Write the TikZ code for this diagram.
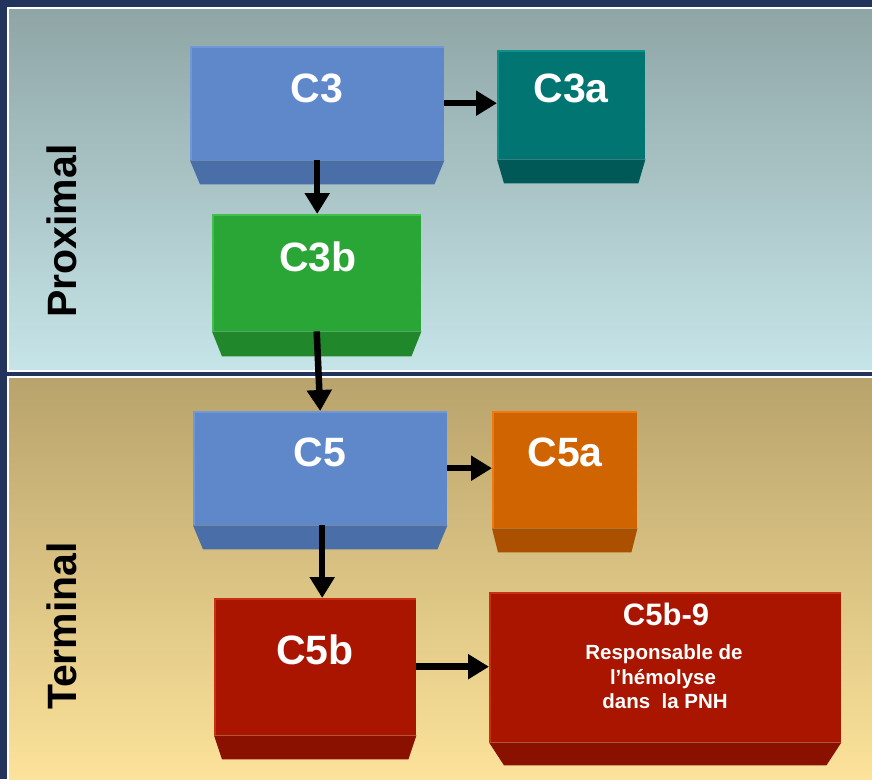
\documentclass[tikz,border=0pt]{standalone}
\usepackage{fontspec}
\setmainfont{Liberation Sans}
\usetikzlibrary{arrows.meta,calc}
\definecolor{navy}{HTML}{22345B}
\definecolor{tpA}{HTML}{8FA5A6}
\definecolor{tpB}{HTML}{C6E5E8}
\definecolor{btA}{HTML}{B8A36C}
\definecolor{btB}{HTML}{FEE49B}
\definecolor{blueF}{HTML}{5F88CB}
\definecolor{blueB}{HTML}{4A6EA8}
\definecolor{blueH}{HTML}{7098D8}
\definecolor{tealF}{HTML}{007572}
\definecolor{tealB}{HTML}{005957}
\definecolor{tealH}{HTML}{10908A}
\definecolor{greenF}{HTML}{2AA636}
\definecolor{greenB}{HTML}{21872B}
\definecolor{greenH}{HTML}{40C04A}
\definecolor{orangeF}{HTML}{D06400}
\definecolor{orangeB}{HTML}{AA5000}
\definecolor{orangeH}{HTML}{F07A10}
\definecolor{redF}{HTML}{AA1500}
\definecolor{redB}{HTML}{8A1000}
\definecolor{redH}{HTML}{C83010}
\tikzset{
  face/.style={draw=none, inner sep=0pt, anchor=north west},
  arr/.style={line width=6.5pt, -{Triangle[length=21pt,width=24pt]}},
  sidelabel/.style={font=\fontsize{41}{48}\selectfont\bfseries, text=black, rotate=90, inner sep=0pt},
  boxtext/.style={anchor=base, inner sep=0pt, text=white},
}
% #1 name, #2 x, #3 y, #4 width, #5 face height, #6 bevel height, #7 inset, #8 face, #9 bevel
\newcommand\bevbox[9]{%
  \node[face, fill=#8, minimum width=#4pt, minimum height=#5pt] (#1) at (#2,#3) {};
  \fill[#9] (#1.south west) -- (#1.south east) -- ++(-#7,#6) -- ($(#1.south west)+(#7,#6)$) -- cycle;
}
\begin{document}
\begin{tikzpicture}[x=1pt,y=-1pt]
\useasboundingbox (0,0) rectangle (872,779);
\fill[navy] (0,0) rectangle (872,779);
% panels
\shade[top color=tpA, bottom color=tpB] (8,8) rectangle (885,371);
\draw[white, line width=1.3pt] (8,8) rectangle (885,371);
\shade[top color=btA, bottom color=btB] (8,377) rectangle (885,790);
\draw[white, line width=1.3pt] (8,377) rectangle (885,790);
% side labels
\node[sidelabel] (prox) at (62,231) {Proximal};
\node[sidelabel] (term) at (62,626) {Terminal};
% boxes
\bevbox{c3}{190}{46}{254}{114}{24}{10}{blueF}{blueB}
\bevbox{c3a}{497}{50}{148}{109}{24}{7}{tealF}{tealB}
\bevbox{c3b}{212}{214}{209}{117}{25}{10}{greenF}{greenB}
\bevbox{c5}{193}{411}{254}{114}{24}{10}{blueF}{blueB}
\bevbox{c5a}{492}{411}{145}{117}{24}{6}{orangeF}{orangeB}
\bevbox{c5b}{214}{598}{202}{137}{24}{8}{redF}{redB}
\bevbox{c59}{489}{592}{352}{150}{23}{15}{redF}{redB}
% highlights
\foreach \n/\h in {c3/blueH,c3a/tealH,c3b/greenH,c5/blueH,c5a/orangeH,c5b/redH,c59/redH}{
  \draw[\h, line width=1.5pt] ($(\n.south west)+(0.75,0)$) -- ($(\n.north west)+(0.75,0.75)$) -- ($(\n.north east)+(0,0.75)$);
}
% texts
\node[boxtext, font=\fontsize{41}{48}\selectfont\bfseries] (c3t) at (317,102) {C3};
\node[boxtext, font=\fontsize{41}{48}\selectfont\bfseries] (c3at) at (571,102) {C3a};
\node[boxtext, font=\fontsize{41}{48}\selectfont\bfseries] (c3bt) at (318,271) {C3b};
\node[boxtext, font=\fontsize{41}{48}\selectfont\bfseries] (c5t) at (320,466) {C5};
\node[boxtext, font=\fontsize{41}{48}\selectfont\bfseries] (c5at) at (565,466) {C5a};
\node[boxtext, font=\fontsize{41}{48}\selectfont\bfseries] (c5bt) at (315,664) {C5b};
\node[boxtext, font=\fontsize{31}{36}\selectfont\bfseries] (c59t) at (666,625) {C5b-9};
\node[boxtext, font=\fontsize{20.5}{24}\selectfont\bfseries] (c59l1) at (664,659) {Responsable de};
\node[boxtext, font=\fontsize{20.5}{24}\selectfont\bfseries] (c59l2) at (663,684) {l’hémolyse};
\node[boxtext, font=\fontsize{20.5}{24}\selectfont\bfseries] (c59l3) at (665,708) {dans\ \ la PNH};
% arrows
\coordinate (c5o) at ($(c5.south)+(2,0)$);
\draw[arr] (c3.east) -- (c3.east -| c3a.west);
\draw[arr] (c3.south) -- (c3.south |- c3b.north);
\draw[arr] (c3b.south) -- (c5.north);
\draw[arr] (c5.east) -- (c5.east -| c5a.west);
\draw[arr] (c5o) -- (c5o |- c5b.north);
\draw[arr] (c5b.east) -- (c5b.east -| c59.west);
\end{tikzpicture}
\end{document}
